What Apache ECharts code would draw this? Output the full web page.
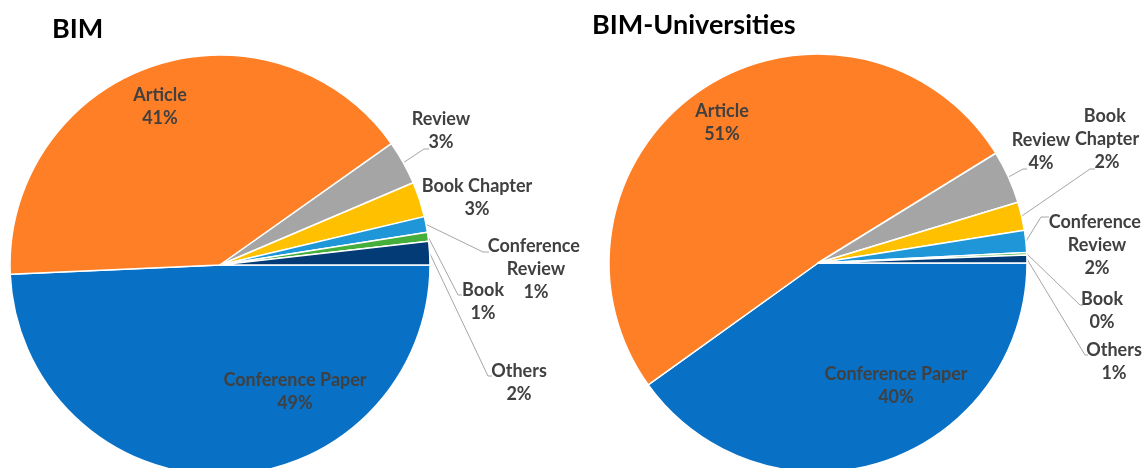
<!DOCTYPE html>
<html><head><meta charset="utf-8">
<script src="https://cdn.jsdelivr.net/npm/echarts@6/dist/echarts.min.js"></script>
<style>html,body{margin:0;padding:0;background:#fff}#c{width:1144px;height:468px}</style>
</head><body><div id="c"></div>
<script>
// ---- data ----
const categories = ['Conference Paper', 'Article', 'Review', 'Book Chapter', 'Conference Review', 'Book', 'Others'];
const bimValues = [49.3, 40.9, 3.4, 2.7, 1.2, 0.7, 1.8];
const uniValues = [40.1, 51.1, 4.1, 2.2, 1.7, 0.2, 0.6];
const chartTitles = ['BIM', 'BIM-Universities'];

// ---- style ----
const colors = ['#0871C6', '#FF7F27', '#A5A5A5', '#FFC000', '#1E96D7', '#46AE3B', '#023B75'];
// label centres (layout)
const labelPos = [
  [[295, 392], [160, 107], [441, 131], [477, 198], [536, 269], [483, 302], [519, 383]],
  [[896, 386], [722, 123], [1041, 152], [1107, 139], [1097, 245], [1102, 311], [1114, 362]]
];
// leader-line elbow and end (layout); null = no leader line
const leaderEnds = [
  [null, null, [[424, 149], [429, 149]], null, [[483, 252], [489, 252]], [[458, 295], [462, 295]], [[488, 376], [492, 376]]],
  [null, null, [[1023, 169], [1027, 169]], [[1090, 169], [1095, 169]], [[1041, 217], [1049, 217]], [[1080, 305], [1083, 305]], [[1085, 355], [1088, 355]]]
];
const labelWrap = [
  [0, 0, 0, 0, 100, 0, 0],
  [0, 0, 0, 70, 100, 0, 0]
];

const chart = echarts.init(document.getElementById('c'), null, {renderer: 'canvas'});
const labelFont = {color: '#404040', fontFamily: 'Lato', fontWeight: 'bold', fontSize: 18, lineHeight: 23};

function makeSeries(idx, values, center, radius) {
  return {
    type: 'pie',
    center: center,
    radius: radius,
    startAngle: 0,
    clockwise: true,
    avoidLabelOverlap: false,
    percentPrecision: 0,
    animation: false,
    itemStyle: {borderColor: '#ffffff', borderWidth: 1.5},
    label: Object.assign({
      show: true,
      position: 'outside',
      align: 'center',
      formatter: function (p) { return p.name + '\n' + p.percent + '%'; }
    }, labelFont),
    labelLine: {show: true, length: 8, length2: 6, smooth: false, lineStyle: {color: '#A6A6A6', width: 1}},
    labelLayout: function (p) {
      const pos = labelPos[idx][p.dataIndex];
      const res = {x: pos[0], y: pos[1], align: 'center', verticalAlign: 'middle'};
      const ends = leaderEnds[idx][p.dataIndex];
      if (ends && p.labelLinePoints && p.labelLinePoints.length) {
        res.labelLinePoints = [p.labelLinePoints[0].slice(), ends[0], ends[1]];
      }
      return res;
    },
    data: categories.map(function (n, i) {
      const item = {name: n, value: values[i], itemStyle: {color: colors[i]}};
      const lab = {};
      if (i < 2) lab.position = 'inside';
      if (labelWrap[idx][i]) { lab.width = labelWrap[idx][i]; lab.overflow = 'break'; }
      item.label = lab;
      if (!leaderEnds[idx][i]) item.labelLine = {show: false};
      return item;
    })
  };
}

const titleStyle = {fontFamily: 'Lato', fontWeight: 'bold', fontSize: 27, color: '#000000'};
chart.setOption({
  backgroundColor: '#ffffff',
  animation: false,
  title: [
    {text: chartTitles[0], left: 47, top: 11, textStyle: titleStyle},
    {text: chartTitles[1], left: 587, top: 7, textStyle: titleStyle}
  ],
  series: [
    makeSeries(0, bimValues, [220, 265], 210),
    makeSeries(1, uniValues, [818, 263], 209)
  ]
});
</script>
</body></html>
